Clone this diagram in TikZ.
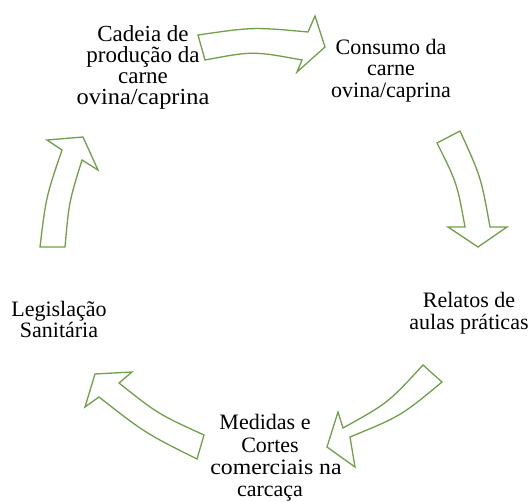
\documentclass[tikz,border=0pt]{standalone}
\usepackage{fontspec}
\setmainfont{Liberation Serif}
\newfontfamily\diagfont{Liberation Serif}
\definecolor{arrowgreen}{RGB}{112,160,72}
\begin{document}
\begin{tikzpicture}[x=1bp,y=-1bp,
  cyclearrow/.style={draw=arrowgreen, line width=1.3bp, fill=white, line join=miter},
  txt/.style={align=center, inner sep=0pt, font=\diagfont\fontsize{22bp}{21.5bp}\selectfont},
  bigtxt/.style={txt, font=\diagfont\fontsize{23bp}{21bp}\selectfont},
  lowtxt/.style={txt, font=\diagfont\fontsize{22bp}{22.3bp}\selectfont}]
\useasboundingbox[fill=white] (0,0) rectangle (528,502);
% arrows
\draw[cyclearrow] (198,35) -- (205,60) .. controls (253,51) .. (302,60) -- (297,72) -- (325,47) -- (315,16) -- (308,32) .. controls (253,27) .. (198,35) -- cycle;
\draw[cyclearrow] (437,143) -- (460,131) .. controls (481,177) .. (490,227) -- (507,227) -- (478,247) -- (448,227) -- (465,227) .. controls (457,183) .. (437,143) -- cycle;
\draw[cyclearrow] (423,365) -- (442,382) .. controls (401,416) .. (350,437) -- (355,467) -- (327,447) -- (338,412) -- (343,428) .. controls (388,403) .. (423,365) -- cycle;
\draw[cyclearrow] (95,374) -- (132,372) -- (119,383) .. controls (158,414) .. (204,435) -- (197,459) .. controls (145,433) .. (99,397) -- (85,407) -- cycle;
\draw[cyclearrow] (40,247) .. controls (46,197) .. (62,150) -- (47,140) -- (83,137) -- (98,170) -- (82,160) .. controls (69,202) .. (65,247) -- cycle;
% texts
\node[bigtxt] (cadeia) at (143,67.5) {Cadeia de\\produção da\\carne\\\scalebox{1.06}[1]{ovina/caprina}};
\node[txt] (consumo) at (391,70.5) {Consumo da\\carne\\ovina/caprina};
\node[txt] (relatos) at (469,313) {Relatos de\\aulas práticas};
\node[txt] (legis) at (59,319.5) {Legislação\\Sanitária};
\node[lowtxt] (medidas) at (270,458) {Medidas e\hspace*{10bp}\\Cortes\hspace*{22bp}\\\hspace*{12bp}\scalebox{1.08}[1]{comerciais na}\\carcaça};
\end{tikzpicture}
\end{document}
